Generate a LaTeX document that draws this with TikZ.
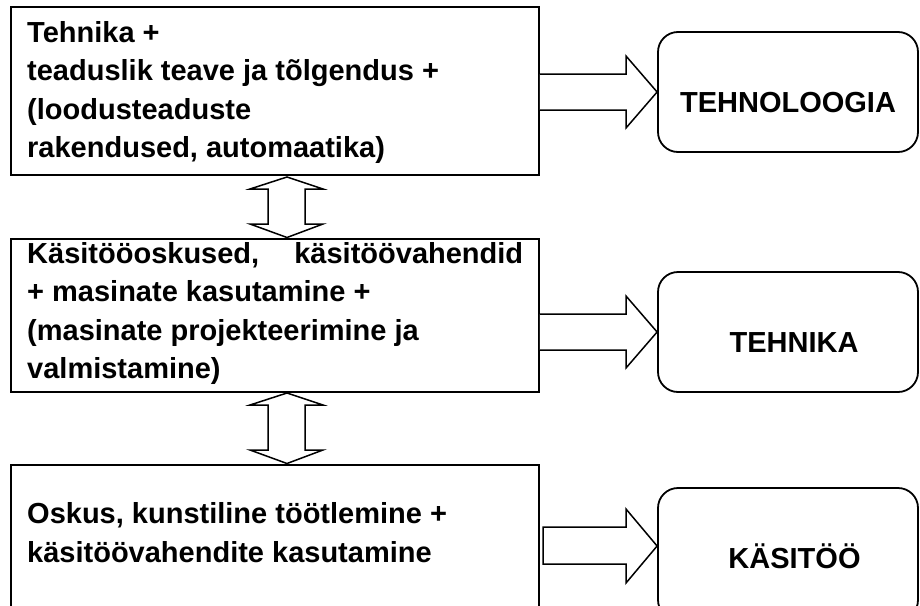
\documentclass[tikz,border=0pt]{standalone}
\usepackage{fontspec}
\setmainfont{Liberation Sans}
\begin{document}
\begin{tikzpicture}[x=1pt,y=-1pt,
  bigfont/.style={font=\fontsize{29}{38}\selectfont\bfseries},
  txt/.style={bigfont,anchor=base west,inner sep=0pt},
  lbl/.style={bigfont,anchor=base,inner sep=0pt},
  sqbox/.style={draw,line width=1.8pt,inner sep=0pt,minimum width=528pt},
  rbox/.style={draw,line width=1.8pt,inner sep=0pt,rounded corners=20pt,minimum width=260pt},
  barrow/.style={draw,line width=1.5pt,line join=miter,fill=white}]
\useasboundingbox (0,0) rectangle (920,605);
\clip (0,0) rectangle (920,605);
\fill[white] (0,0) rectangle (920,605);

% left boxes
\node[sqbox,minimum height=168pt] (b1) at (275,91) {};
\node[sqbox,minimum height=153pt] (b2) at (275,315.5) {};
\node[sqbox,minimum height=160pt] (b3) at (275,545) {};

% right rounded boxes
\node[rbox,minimum height=120pt] (r1) at (788,92) {};
\node[rbox,minimum height=120pt] (r2) at (788,332) {};
\node[rbox,minimum height=132pt] (r3) at (788,554) {};

% texts box 1
\node[txt] (t1a) at (27,42) {Tehnika +};
\node[txt] (t1b) at (27,80.5) {teaduslik teave ja tõlgendus +};
\node[txt] (t1c) at (27,119) {(loodusteaduste};
\node[txt] (t1d) at (27,157.5) {rakendused, automaatika)};
% texts box 2
\node[txt] (t2a) at (27,263) {\hbox to 496pt{Käsitööoskused,\hfill käsitöövahendid}};
\node[txt] (t2b) at (27,301.5) {+ masinate kasutamine +};
\node[txt] (t2c) at (27,340) {(masinate projekteerimine ja};
\node[txt] (t2d) at (27,378) {valmistamine)};
% texts box 3
\node[txt] (t3a) at (27,523) {Oskus, kunstiline töötlemine +};
\node[txt] (t3b) at (27,562) {käsitöövahendite kasutamine};

% labels
\node[lbl] (l1) at (788,112) {TEHNOLOOGIA};
\node[lbl] (l2) at (794,352) {TEHNIKA};
\node[lbl] (l3) at (794.5,568) {KÄSITÖÖ};

% horizontal block arrows
\path[barrow] (b1.east |- 0,74) -- (626,74) -- (626,56) -- (r1.west |- 0,92) -- (626,128) -- (626,110) -- (b1.east |- 0,110);
\path[barrow] (b2.east |- 0,314) -- (626,314) -- (626,296) -- (r2.west |- 0,332) -- (626,368) -- (626,350) -- (b2.east |- 0,350);
\path[barrow] (543,527) -- (626,527) -- (626,509) -- (r3.west |- 0,546) -- (626,583) -- (626,564) -- (543,564) -- cycle;

% vertical double block arrows
\path[barrow] (287,177) -- (323,189) -- (305,189) -- (305,224) -- (323,224) -- (287,237.5)
  -- (250,224) -- (268,224) -- (268,189) -- (250,189) -- cycle;
\path[barrow] (287,393) -- (323,405) -- (305,405) -- (305,450) -- (323,450) -- (287,463.5)
  -- (250,450) -- (268,450) -- (268,405) -- (250,405) -- cycle;
\end{tikzpicture}
\end{document}
